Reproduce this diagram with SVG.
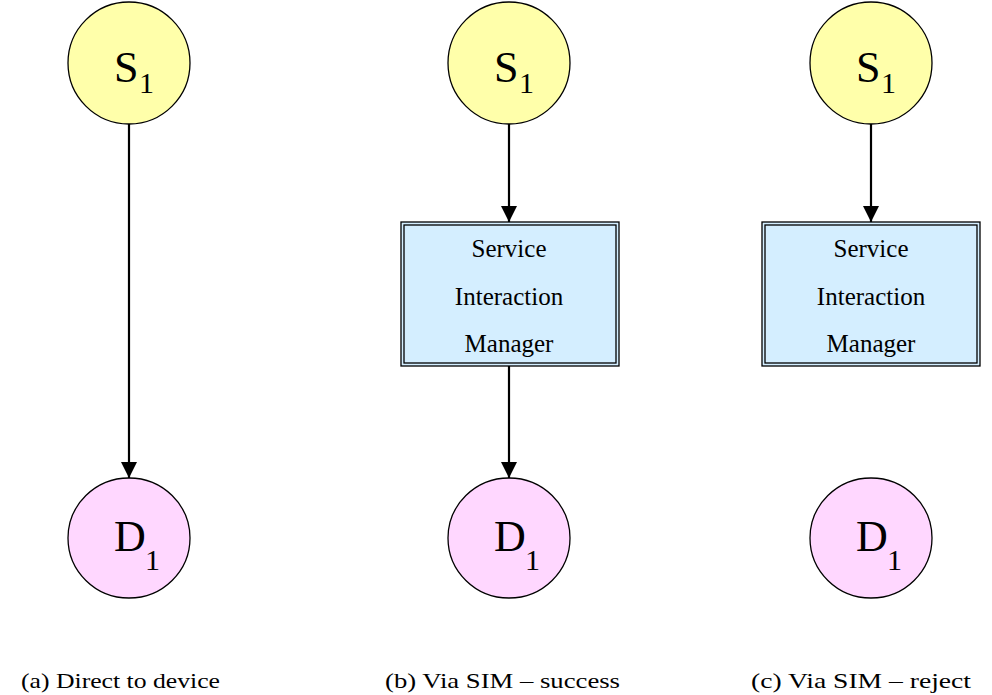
<svg xmlns="http://www.w3.org/2000/svg" width="992" height="695" viewBox="0 0 992 695">
<style>
.s{fill:#ffffaa;stroke:#000;stroke-width:1.3}
.d{fill:#ffd7ff;stroke:#000;stroke-width:1.3}
.box{fill:#d4eeff;stroke:#000;stroke-width:1.3}
.boxi{fill:none;stroke:#000;stroke-width:1.3}
text{font-family:"Liberation Serif","Tinos","Times New Roman","Nimbus Roman","DejaVu Serif",serif;fill:#000}
.big{font-size:44px}
.sub{font-size:30px}
.lbl{font-size:25px;text-anchor:middle}
.cap{font-size:22px}
.edge{stroke:#000;stroke-width:2.2;fill:none;marker-end:url(#ah)}
</style>
<defs>
<marker id="ah" markerWidth="16" markerHeight="16" refX="16" refY="8" orient="auto" markerUnits="userSpaceOnUse">
<path d="M0,0 L16,8 L0,16 z" fill="#000"/>
</marker>
</defs>
<rect width="992" height="695" fill="#fff"/>
<g id="edges">
<line class="edge" x1="129" y1="124" x2="129" y2="478"/>
<line class="edge" x1="509" y1="124" x2="509" y2="222"/>
<line class="edge" x1="509" y1="366" x2="509" y2="478"/>
<line class="edge" x1="871" y1="124" x2="871" y2="222"/>
</g>
<g id="s1a"><ellipse class="s" cx="129" cy="63" rx="61" ry="61"/><text class="big" x="114" y="82">S</text><text class="sub" x="139" y="93">1</text></g>
<g id="s1b"><ellipse class="s" cx="509" cy="63" rx="61" ry="61"/><text class="big" x="494" y="82">S</text><text class="sub" x="519" y="93">1</text></g>
<g id="s1c"><ellipse class="s" cx="871" cy="63" rx="61" ry="61"/><text class="big" x="856" y="82">S</text><text class="sub" x="881" y="93">1</text></g>
<g id="d1a"><ellipse class="d" cx="129" cy="538" rx="61" ry="60"/><text class="big" x="114" y="551">D</text><text class="sub" x="145" y="570">1</text></g>
<g id="d1b"><ellipse class="d" cx="509" cy="538" rx="61" ry="60"/><text class="big" x="494" y="551">D</text><text class="sub" x="525" y="570">1</text></g>
<g id="d1c"><ellipse class="d" cx="871" cy="538" rx="61" ry="60"/><text class="big" x="856" y="551">D</text><text class="sub" x="887" y="570">1</text></g>
<g id="simb"><rect class="box" x="401" y="222" width="218" height="144"/><rect class="boxi" x="404" y="225" width="212" height="138"/>
<text class="lbl" x="509" y="257">Service</text><text class="lbl" x="509" y="305">Interaction</text><text class="lbl" x="509" y="352">Manager</text></g>
<g id="simc"><rect class="box" x="762" y="222" width="218" height="144"/><rect class="boxi" x="765" y="225" width="212" height="138"/>
<text class="lbl" x="871" y="257">Service</text><text class="lbl" x="871" y="305">Interaction</text><text class="lbl" x="871" y="352">Manager</text></g>
<text class="cap" x="21" y="688" textLength="199" lengthAdjust="spacingAndGlyphs">(a) Direct to device</text>
<text class="cap" x="385" y="688" textLength="235" lengthAdjust="spacingAndGlyphs">(b) Via SIM – success</text>
<text class="cap" x="751" y="688" textLength="220" lengthAdjust="spacingAndGlyphs">(c) Via SIM – reject</text>
</svg>
